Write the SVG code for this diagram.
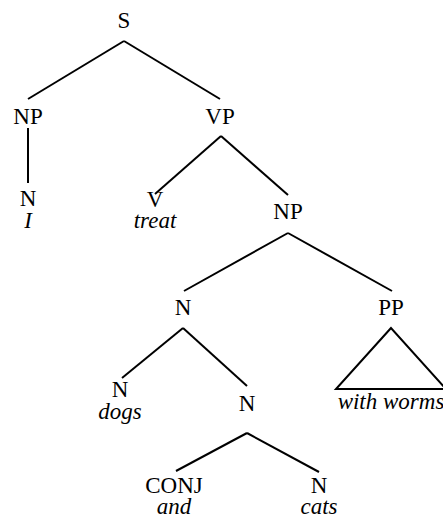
<svg xmlns="http://www.w3.org/2000/svg" width="443" height="518" viewBox="0 0 443 518">
<style>
.t{font-size:23px;fill:#000;text-anchor:middle}
.w{font-style:italic}
.e{stroke:#000;stroke-width:2;fill:none;stroke-linecap:butt}
</style>
<rect width="443" height="518" fill="#fff"/>
<g id="connectors">
<line class="e" x1="124" y1="41" x2="28" y2="99"/>
<line class="e" x1="124" y1="41" x2="220" y2="99"/>
<line class="e" x1="28" y1="128" x2="28" y2="183"/>
<line class="e" x1="221" y1="136" x2="155" y2="194"/>
<line class="e" x1="221" y1="136" x2="288" y2="195"/>
<line class="e" x1="288" y1="233" x2="184" y2="291"/>
<line class="e" x1="288" y1="233" x2="392" y2="291"/>
<line class="e" x1="183" y1="328" x2="122" y2="378"/>
<line class="e" x1="183" y1="328" x2="247" y2="386"/>
<line class="e" x1="247" y1="433" x2="176" y2="471"/>
<line class="e" x1="247" y1="433" x2="319" y2="472"/>
<polygon class="e" points="391,328 336,389 446,389"/>
</g>
<g font-family="'Liberation Serif', 'Times New Roman', Times, serif" class="t">
<g id="S"><text x="124" y="28">S</text></g>
<g id="NP1"><text x="28" y="124">NP</text></g>
<g id="VP"><text x="220" y="124">VP</text></g>
<g id="N_I"><text x="28" y="206">N</text><text class="w" x="28" y="228">I</text></g>
<g id="V"><text x="155" y="207">V</text><text class="w" x="155" y="228">treat</text></g>
<g id="NP2"><text x="288" y="219">NP</text></g>
<g id="N3"><text x="183" y="315">N</text></g>
<g id="PP"><text x="391" y="315">PP</text><text class="w" x="391" y="409">with worms</text></g>
<g id="N_dogs"><text x="120" y="397">N</text><text class="w" x="120" y="419">dogs</text></g>
<g id="N4"><text x="247" y="411">N</text></g>
<g id="CONJ"><text x="174" y="493">CONJ</text><text class="w" x="174" y="514">and</text></g>
<g id="N_cats"><text x="319" y="493">N</text><text class="w" x="319" y="514">cats</text></g>
</g>
</svg>
